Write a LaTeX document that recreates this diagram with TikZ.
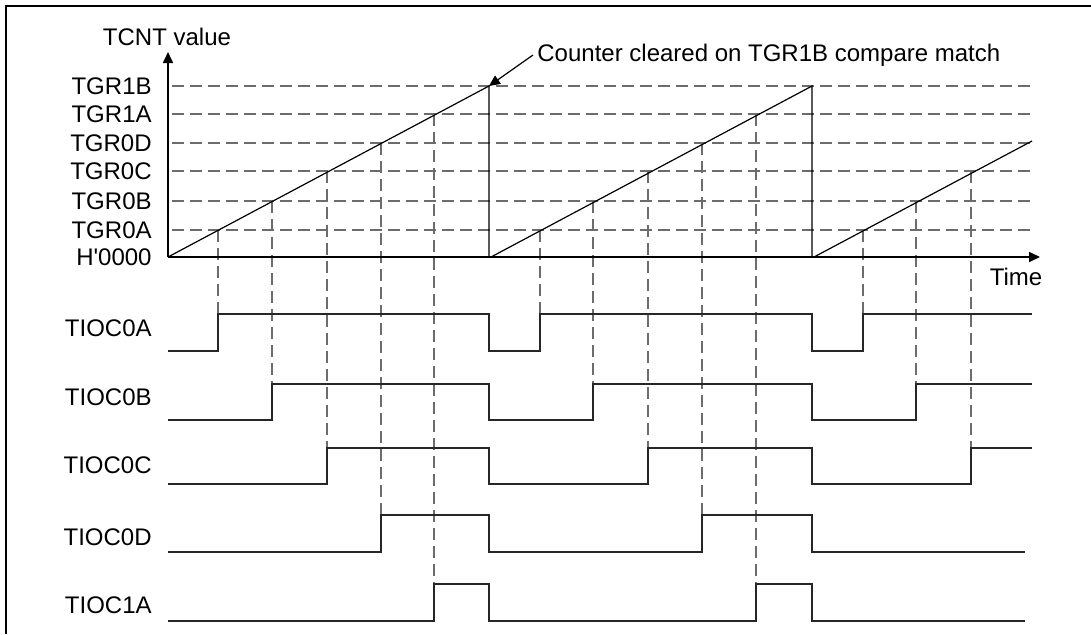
\documentclass[tikz,border=0pt]{standalone}
\usepackage{fontspec}
\setmainfont{Liberation Sans}
\usetikzlibrary{arrows.meta}

\begin{document}
\begin{tikzpicture}[
    x=0.5pt, y=-0.5pt,
    lbl/.style={font=\fontsize{12}{14}\selectfont, inner sep=2pt},
    guide/.style={dash pattern=on 6pt off 3pt, line width=0.6pt, draw=gray!85!black},
    wave/.style={line width=0.8pt, draw=black!85},
    ramp/.style={line width=0.6pt},
    axis/.style={line width=0.8pt, -{Triangle[length=5.5pt,width=5pt]}}
]
    \useasboundingbox (0,0) rectangle (1091,634);

    % Frame (top and left only)
    \draw[line width=0.8pt] (1091,6) -- (6,6) -- (6,634);

    % Compare levels with dashed guides
    \foreach \yval/\txt/\nm in {86/TGR1B/r1b, 114/TGR1A/r1a, 143/TGR0D/r0d, 171/TGR0C/r0c, 201/TGR0B/r0b, 230/TGR0A/r0a} {
        \node[lbl, anchor=east] (lv\nm) at (156,\yval) {\txt};
        \draw[guide] (172,\yval) -- (1032,\yval);
    }
    \node[lbl, anchor=east] (lvzero) at (156,257) {H\textquotesingle 0000};

    % Drop lines from compare match down to the output edge
    \foreach \xval/\ytop/\ybot in {218/230/314, 272/201/384, 327/171/448, 381/143/515, 434/114/584,
                                   540/230/314, 593/201/384, 648/171/448, 702/143/515, 756/114/584,
                                   863/230/314, 916/201/384, 971/171/448} {
        \draw[guide] (\xval,\ytop) -- (\xval,\ybot);
    }

    % Counter sawtooth
    \draw[ramp] (168,257) -- (489,86) -- (489,257);
    \draw[ramp] (491,257) -- (812,86) -- (812,257);
    \draw[ramp] (814,257) -- (1032,141);

    % Axes
    \draw[axis] (168,257) -- (168,52);
    \draw[axis] (168,257) -- (1040,257);
    \node[lbl] (ylab) at (167,37) {TCNT value};
    \node[lbl] (xlab) at (1016,277) {Time};

    % Clear annotation
    \coordinate (peak) at (489,86);
    \node[lbl, anchor=west] (clr) at (533,55) {Counter cleared on TGR1B compare match};
    \draw[line width=0.6pt, -{Triangle[length=5.5pt,width=5pt]}] (clr.west) -- (peak);

    % Output waveforms
    \foreach \yval/\txt in {328/TIOC0A, 397/TIOC0B, 465/TIOC0C, 537/TIOC0D, 605/TIOC1A} {
        \node[lbl, anchor=east] (\txt) at (156,\yval) {\txt};
    }
    \draw[wave] (168,351) -| (218,314) -| (489,351) -| (540,314) -| (812,351) -| (863,314) -- (1032,314);
    \draw[wave] (168,420) -| (272,384) -| (489,420) -| (593,384) -| (812,420) -| (916,384) -- (1032,384);
    \draw[wave] (168,484) -| (327,448) -| (489,484) -| (648,448) -| (812,484) -| (971,448) -- (1032,448);
    \draw[wave] (168,552) -| (381,515) -| (489,552) -| (702,515) -| (812,552) -- (1025,552);
    \draw[wave] (168,621) -| (434,584) -| (489,621) -| (756,584) -| (812,621) -- (1025,621);
\end{tikzpicture}
\end{document}
